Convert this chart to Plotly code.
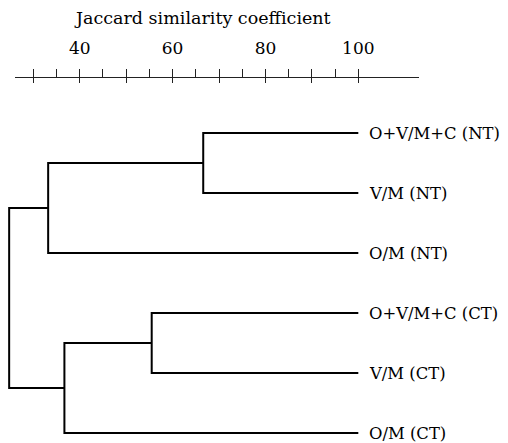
import plotly.graph_objects as go

# ---- data ----
leaf_labels = ["O+V/M+C (NT)", "V/M (NT)", "O/M (NT)",
               "O+V/M+C (CT)", "V/M (CT)", "O/M (CT)"]
leaf_similarity = 100
# merges: (child_a, child_b, similarity); children: leaf index (int) or "n<k>" for earlier merges
merge_a = [0, 3, "n0", "n1", "n2"]
merge_b = [1, 4, 2, 5, "n3"]
merge_sim = [66.6, 55.5, 33.2, 36.7, 24.8]

tick_major = [30, 40, 50, 60, 70, 80, 90, 100]
tick_all = [30, 35, 40, 45, 50, 55, 60, 65, 70, 75, 80, 85, 90, 95, 100]
tick_labelled = [40, 60, 80, 100]
axis_title = "Jaccard similarity coefficient"

FONT = "DejaVu Serif"

# ---- build dendrogram segments ----
node_x = {}
node_y = {}
for i, _ in enumerate(leaf_labels):
    node_x[i] = leaf_similarity
    node_y[i] = i

xs, ys = [], []
for k, (a, b, s) in enumerate(zip(merge_a, merge_b, merge_sim)):
    ya, yb = node_y[a], node_y[b]
    xs += [node_x[a], s, s, node_x[b], None]
    ys += [ya, ya, yb, yb, None]
    node_x[f"n{k}"] = s
    node_y[f"n{k}"] = (ya + yb) / 2

fig = go.Figure()
fig.add_trace(go.Scatter(x=xs, y=ys, mode="lines",
                         line=dict(color="black", width=2),
                         hoverinfo="skip", showlegend=False))

# ruler traces (invisible) to activate the top axes
fig.add_trace(go.Scatter(x=[tick_all[0]], y=[0], xaxis="x2", mode="markers",
                         marker=dict(opacity=0), hoverinfo="skip", showlegend=False))
fig.add_trace(go.Scatter(x=[tick_all[0]], y=[0], xaxis="x3", mode="markers",
                         marker=dict(opacity=0), hoverinfo="skip", showlegend=False))

for i, lab in enumerate(leaf_labels):
    fig.add_annotation(x=leaf_similarity, y=i, text=lab, showarrow=False,
                       xanchor="left", yanchor="middle", xshift=9,
                       font=dict(family=FONT, size=16.4, color="black"))

# page body adds an 8px offset; figure fills the rest of the 508x443 window
OFF = 8
W, H = 508 - OFF, 443 - OFF
px_per_unit = 4.643
x30_px = 33.3 - OFF
# main axis spans whole width
r0 = 30 - x30_px / px_per_unit
r1 = r0 + W / px_per_unit
# ruler axis line from 15 to 419 px (window coords)
a0, a1 = 15 - OFF, 419 - OFF
q0 = 30 + (a0 - x30_px) / px_per_unit
q1 = 30 + (a1 - x30_px) / px_per_unit
ruler_pos = 1 - (77 - OFF) / H

leaf_gap = 60
y_top = -(133 - OFF) / leaf_gap
y_bot = y_top + H / leaf_gap

fig.update_layout(
    width=W, height=H,
    margin=dict(l=0, r=0, t=0, b=0, autoexpand=False),
    paper_bgcolor="white", plot_bgcolor="rgba(0,0,0,0)",
    font=dict(family=FONT, size=17, color="black"),
    xaxis=dict(domain=[0, 1], range=[r0, r1], visible=False, fixedrange=True,
               automargin=False),
    yaxis=dict(domain=[0, 1], range=[y_bot, y_top], visible=False, fixedrange=True,
               automargin=False),
    xaxis2=dict(domain=[a0 / W, a1 / W], range=[q0, q1], anchor="free",
                position=ruler_pos, side="top", automargin=False,
                showline=True, linecolor="#222", linewidth=1.3,
                ticks="outside", ticklen=8, tickwidth=1.2, tickcolor="#222",
                tickmode="array", tickvals=tick_all,
                ticktext=[str(v) if v in tick_labelled else "" for v in tick_all],
                tickfont=dict(family=FONT, size=17, color="black"),
                ticklabelstandoff=8,
                showgrid=False, zeroline=False, fixedrange=True),
    xaxis3=dict(domain=[a0 / W, a1 / W], range=[q0, q1], anchor="free",
                position=ruler_pos, side="top", automargin=False,
                showline=False, ticks="inside", ticklen=5, tickwidth=1.2,
                tickcolor="#222", tickmode="array", tickvals=tick_major,
                showticklabels=False, showgrid=False, zeroline=False,
                fixedrange=True),
)

fig.add_annotation(text=axis_title, xref="paper", yref="paper",
                   x=(202.5 - OFF) / W, y=1 - (18 - OFF) / H, showarrow=False,
                   xanchor="center", yanchor="middle",
                   font=dict(family=FONT, size=17.5, color="black"))

fig.write_html("out.html")
